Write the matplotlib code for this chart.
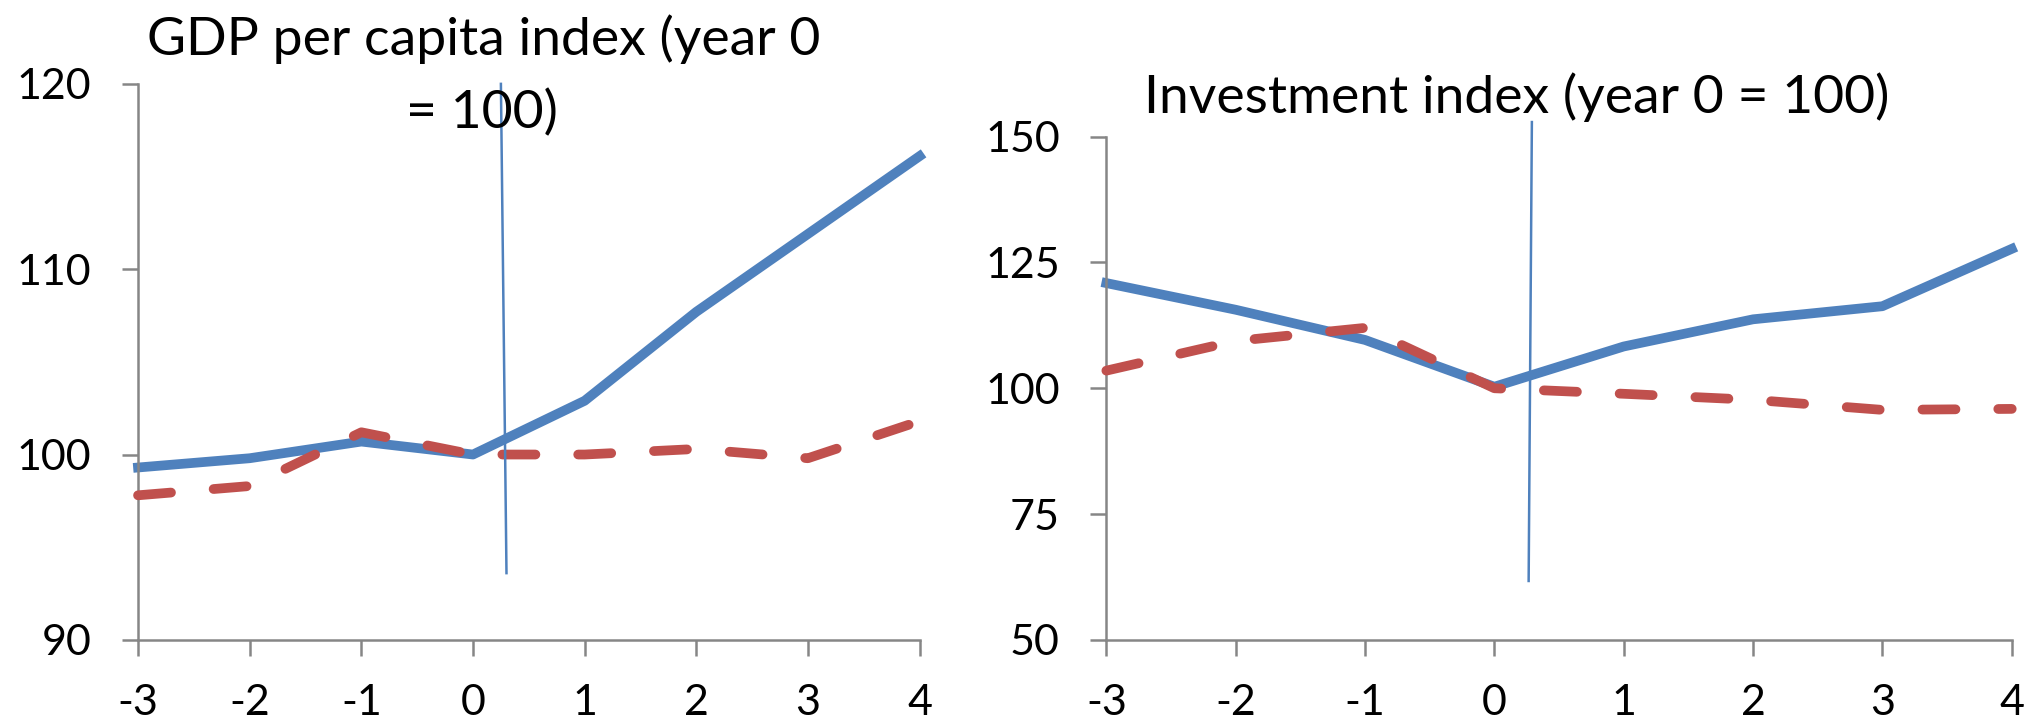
import matplotlib
matplotlib.use("Agg")
import matplotlib.pyplot as plt

plt.rcParams['font.family'] = ['Lato', 'DejaVu Sans']

years = [-3, -2, -1, 0, 1, 2, 3, 4]
year_labels = ["-3", "-2", "-1", "0", "1", "2", "3", "4"]

gdp_solid = [99.3, 99.8, 100.7, 100.0, 102.9, 107.7, 111.9, 116.1]
gdp_dashed = [97.8, 98.3, 101.2, 100.0, 100.0, 100.3, 99.8, 101.8]

inv_solid = [120.9, 115.6, 109.6, 100.3, 108.3, 113.7, 116.3, 127.7]
inv_dashed = [103.5, 109.4, 112.0, 100.0, 98.9, 97.7, 95.7, 95.9]

gdp_ticks = [90, 100, 110, 120]
inv_ticks = [50, 75, 100, 125, 150]

BLUE = "#4F81BD"
RED = "#C0504D"
AXIS = "#868686"

fig = plt.figure(figsize=(20.30, 7.23), dpi=100)
ax1 = fig.add_axes([0.068, 0.115, 0.385, 0.769])
ax2 = fig.add_axes([0.545, 0.115, 0.446, 0.696])


def style(ax, yticks):
    ax.set_xlim(years[0], years[-1])
    ax.set_ylim(yticks[0], yticks[-1])
    ax.set_xticks(years)
    ax.set_xticklabels(year_labels)
    ax.set_yticks(yticks)
    ax.set_yticklabels([str(t) for t in yticks])
    for s in ("top", "right"):
        ax.spines[s].set_visible(False)
    for s in ("left", "bottom"):
        ax.spines[s].set_color(AXIS)
        ax.spines[s].set_linewidth(1.8)
    ax.tick_params(axis="both", direction="out", length=11.5, width=1.8,
                   color=AXIS, labelsize=31)
    ax.tick_params(axis="y", pad=22)
    ax.tick_params(axis="x", pad=20)


def draw(ax, solid, dashed):
    ax.plot(years, dashed, color=RED, lw=7, dashes=(3.4, 4.4),
            dash_capstyle="round", zorder=3, clip_on=False)
    ax.plot(years, solid, color=BLUE, lw=7, zorder=2,
            solid_joinstyle="round", clip_on=False)


style(ax1, gdp_ticks)
draw(ax1, gdp_solid, gdp_dashed)
ax1.plot([0.25, 0.30], [120, 93.6], color=BLUE, lw=1.8, zorder=4, clip_on=False)
fig.text(484 / 2030, 0.924, "GDP per capita index (year 0", ha="center",
         va="baseline", fontsize=38.5)
fig.text(482 / 2030, 0.823, "= 100)", ha="center", va="baseline", fontsize=38.5)

style(ax2, inv_ticks)
draw(ax2, inv_solid, inv_dashed)
ax2.plot([0.29, 0.265], [152.9, 61.7], color=BLUE, lw=1.8, zorder=4, clip_on=False)
fig.text(1517 / 2030, 0.844, "Investment index (year 0 = 100)", ha="center",
         va="baseline", fontsize=38.5)

fig.savefig("out.png", dpi=100)
